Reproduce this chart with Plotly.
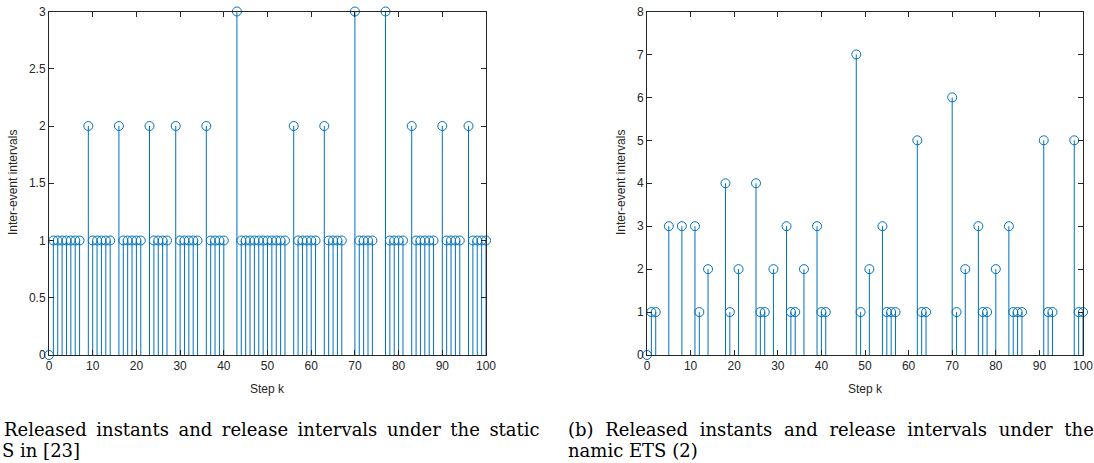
import plotly.graph_objects as go

# ---- data ----
a_steps = [0,1,2,3,4,5,6,7,9,10,11,12,13,14,16,17,18,19,20,21,23,24,25,26,27,29,30,31,32,33,34,
           36,37,38,39,40,43,44,45,46,47,48,49,50,51,52,53,54,56,57,58,59,60,61,63,64,65,66,67,
           70,71,72,73,74,77,78,79,80,81,83,84,85,86,87,88,90,91,92,93,94,96,97,98,99,100]
a_vals = [0,1,1,1,1,1,1,1,2,1,1,1,1,1,2,1,1,1,1,1,2,1,1,1,1,2,1,1,1,1,1,
          2,1,1,1,1,3,1,1,1,1,1,1,1,1,1,1,1,2,1,1,1,1,1,2,1,1,1,1,
          3,1,1,1,1,3,1,1,1,1,2,1,1,1,1,1,2,1,1,1,1,2,1,1,1,1]

b_steps = [0,1,2,5,8,11,12,14,18,19,21,25,26,27,29,32,33,34,36,39,40,41,48,49,51,54,55,56,57,
           62,63,64,70,71,73,76,77,78,80,83,84,85,86,91,92,93,98,99,100]
b_vals = [0,1,1,3,3,3,1,2,4,1,2,4,1,1,2,3,1,1,2,3,1,1,7,1,2,3,1,1,1,
          5,1,1,6,1,2,3,1,1,2,3,1,1,1,5,1,1,5,1,1]

a_yticks = [0, 0.5, 1, 1.5, 2, 2.5, 3]
b_yticks = [0, 1, 2, 3, 4, 5, 6, 7, 8]
xticks = [0, 10, 20, 30, 40, 50, 60, 70, 80, 90, 100]

ylabel = "Inter-event intervals"
xlabel = "Step k"
cap_a1 = "Released instants and release intervals under the static"
cap_a2 = "S in [23]"
cap_b1 = "(b) Released instants and release intervals under the"
cap_b2 = "namic ETS (2)"

BLUE = "#0072BD"
AX = "#262626"
W, H = 1094, 463

def px_x(p):
    return p / W

def px_y(p):
    return 1 - p / H

fig = go.Figure()

def stems(xs, ys, xa, ya):
    sx, sy = [], []
    for x, y in zip(xs, ys):
        sx += [x, x, None]
        sy += [0, y, None]
    fig.add_trace(go.Scatter(x=sx, y=sy, mode="lines", line=dict(color=BLUE, width=1),
                             xaxis=xa, yaxis=ya, hoverinfo="skip", showlegend=False))
    fig.add_trace(go.Scatter(x=xs, y=ys, mode="markers",
                             marker=dict(symbol="circle-open", size=9, color=BLUE,
                                         line=dict(width=1, color=BLUE)),
                             xaxis=xa, yaxis=ya, cliponaxis=False, showlegend=False))

stems(a_steps, a_vals, "x", "y")
stems(b_steps, b_vals, "x2", "y2")

ydom = [px_y(355), px_y(11.5)]
common = dict(showgrid=False, zeroline=False, showline=True, linecolor=AX, linewidth=1,
              mirror="ticks", ticks="inside", ticklen=5, tickcolor=AX, tickwidth=1,
              automargin=False,
              tickfont=dict(family="Liberation Sans, Arial", size=12, color=AX))

fig.update_layout(
    width=W, height=H, margin=dict(l=0, r=0, t=0, b=0, pad=0), autosize=False,
    paper_bgcolor="white", plot_bgcolor="white",
    xaxis=dict(domain=[px_x(49), px_x(486)], range=[0, 100], tickvals=xticks, anchor="y", **common),
    yaxis=dict(domain=ydom, range=[0, 3], tickvals=a_yticks, anchor="x", **common),
    xaxis2=dict(domain=[px_x(647), px_x(1083)], range=[0, 100], tickvals=xticks, anchor="y2", **common),
    yaxis2=dict(domain=ydom, range=[0, 8], tickvals=b_yticks, anchor="x2", **common),
)

def justify(s, gap):
    return s.replace(" ", gap)

lab_font = dict(family="Liberation Sans, Arial", size=12, color=AX)
cap_font = dict(family="DejaVu Serif", size=18, color="black")
ann = [
    dict(text=ylabel, x=px_x(13), y=px_y(183), textangle=-90, font=lab_font),
    dict(text=ylabel, x=px_x(621), y=px_y(183), textangle=-90, font=lab_font),
    dict(text=xlabel, x=px_x(267), y=px_y(389), font=lab_font),
    dict(text=xlabel, x=px_x(865), y=px_y(389), font=lab_font),
    dict(text=justify(cap_a1, "\u2004\u2009"), x=px_x(2), y=px_y(429), xanchor="left", font=cap_font),
    dict(text=cap_a2, x=px_x(0), y=px_y(450), xanchor="left", font=cap_font),
    dict(text=justify(cap_b1, " \u2004"), x=px_x(566), y=px_y(429), xanchor="left", font=cap_font),
    dict(text=cap_b2, x=px_x(566), y=px_y(450), xanchor="left", font=cap_font),
]
for a in ann:
    a.setdefault("xanchor", "center")
    a.update(xref="paper", yref="paper", yanchor="middle", showarrow=False)
fig.update_layout(annotations=ann)

fig.write_html("out.html", config={"displayModeBar": False},
               post_script="document.body.style.margin='0';document.body.style.overflow='hidden';")
